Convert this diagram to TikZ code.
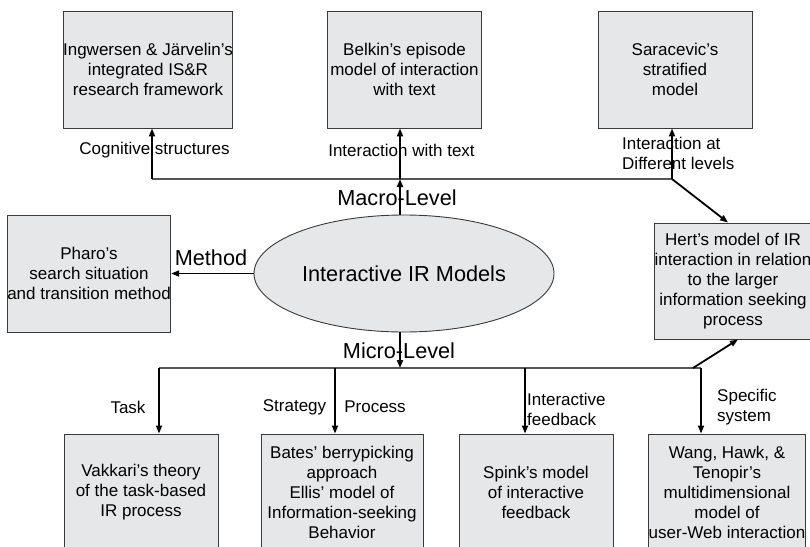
\documentclass[tikz,border=0pt]{standalone}
\usepackage{fontspec}
\setmainfont{Liberation Sans}
\usetikzlibrary{arrows.meta,shapes.geometric}
\definecolor{boxfill}{HTML}{E6E7E8}
\definecolor{boxline}{HTML}{3A3A3A}
\definecolor{busline}{HTML}{555555}
\begin{document}
\begin{tikzpicture}[x=1pt,y=-1pt,
  model/.style={draw=boxline, line width=0.9pt, fill=boxfill, minimum width=154pt,
    minimum height=117pt, inner sep=0pt, align=center, font=\fontsize{17}{20}\selectfont},
  hub/.style={ellipse, draw=boxline, line width=0.9pt, fill=boxfill, minimum width=300pt,
    minimum height=117pt, inner sep=0pt, font=\fontsize{21.7}{26}\selectfont},
  link/.style={line width=1.8pt, -{Triangle[length=8pt,width=6pt]}},
  bus/.style={draw=busline, line width=1.2pt},
  lbl/.style={inner sep=0pt, font=\fontsize{17}{20}\selectfont},
  biglbl/.style={inner sep=0pt, font=\fontsize{21.7}{26}\selectfont}
]
\useasboundingbox (0,0) rectangle (810,546);

% central model
\node[hub] (hub) at (404,273.5) {Interactive IR Models};

% macro-level models
\node[model] (ing) at (148,69.5) {Ingwersen \& Järvelin’s\\integrated IS\&R\\research framework};
\node[model] (bel) at (404.5,69.5) {Belkin’s episode\\model of interaction\\with text};
\node[model] (sar) at (675,69.5) {Saracevic’s\\stratified\\model};

% side models
\node[model] (pha) at (89,273.5) {Pharo’s\\search situation\\and transition method};
\node[model, minimum width=152pt, minimum height=116pt] (her) at (733,281)
  {Hert’s model of IR\\interaction in relation\\to the larger\\information seeking\\process};

% micro-level models
\node[model] (vak) at (141,492.5) {Vakkari’s theory\\of the task-based\\IR process};
\node[model, minimum width=162pt] (bat) at (342,492.5)
  {Bates’ berrypicking\\approach\\Ellis’ model of\\Information-seeking\\Behavior};
\node[model] (spi) at (536,492.5) {Spink’s model\\of interactive\\feedback};
\node[model] (wan) at (727,492.5)
  {Wang, Hawk, \&\\Tenopir’s\\multidimensional\\model of\\user-Web interaction};

% macro-level bus
\coordinate (ma1) at (152,179);
\coordinate (ma2) at (400,179);
\coordinate (ma3) at (672,179);
\draw[bus] (ma1) -- (ma3);
\draw[link] (hub.north -| ma2) -- (ma2);
\draw[link] (ma1) -- (ma1 |- ing.south);
\draw[link] (ma2) -- (ma2 |- bel.south);
\draw[link] (ma3) -- (ma3 |- sar.south);
\draw[link] (ma3) -- ([xshift=-5pt]her.north);

% method link
\draw[link] (hub.west) -- (pha.east);

% micro-level bus
\coordinate (mc) at (400,368);
\coordinate (mi1) at (159,368);
\coordinate (mi2) at (335,368);
\coordinate (mi3) at (525,368);
\coordinate (mi4) at (701,368);
\coordinate (mi5) at (693,368);
\draw[bus] (mi1) -- (mi4);
\draw[link] (hub.south -| mc) -- (mc);
\draw[link] (mi1) -- (mi1 |- vak.north);
\draw[link] (mi2) -- (mi2 |- bat.north);
\draw[link] (mi3) -- (mi3 |- spi.north);
\draw[link] (mi4) -- (mi4 |- wan.north);
\draw[link] (mi5) -- ([xshift=5pt]her.south);

% labels
\node[lbl] (l1) at (154.5,150) {Cognitive structures};
\node[lbl] (l2) at (401.5,150) {Interaction with text};
\node[lbl, align=left, anchor=west] (l3) at (622,153) {Interaction at\\Different levels};
\node[biglbl] (l4) at (397,198) {Macro-Level};
\node[biglbl] (l5) at (211,258) {Method};
\node[biglbl] (l6) at (399,351) {Micro-Level};
\node[lbl] (l7) at (128,407) {Task};
\node[lbl] (l8) at (294.5,407) {Strategy};
\node[lbl] (l9) at (375,407) {Process};
\node[lbl, align=left, anchor=west] (l10) at (527,409) {Interactive\\feedback};
\node[lbl, align=left, anchor=west] (l11) at (717,407) {Specific\\system};
\end{tikzpicture}
\end{document}
